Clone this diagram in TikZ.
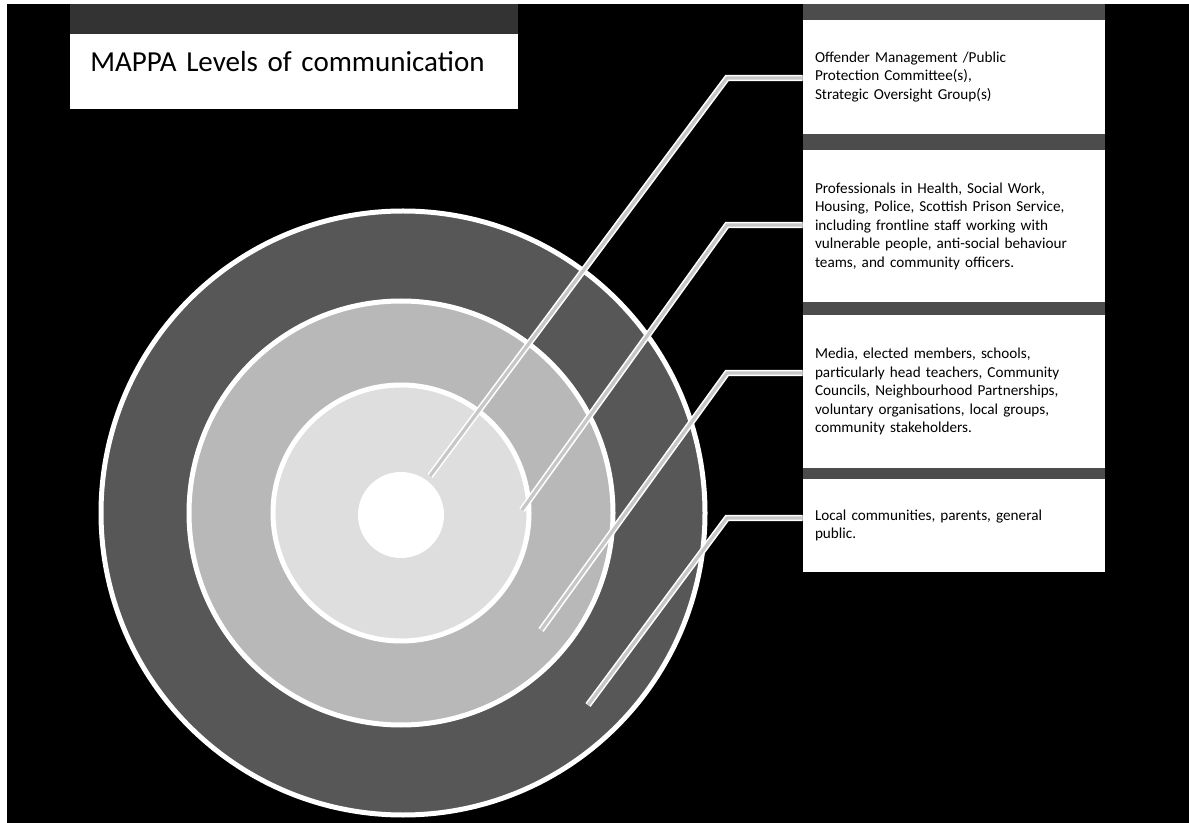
\documentclass[tikz,border=0pt]{standalone}
\usepackage{fontspec}
\setmainfont{Carlito}
\begin{document}
\hyphenpenalty=10000\relax
\exhyphenpenalty=10000\relax
\begin{tikzpicture}[x=0.5pt,y=-0.5pt,
  box/.style={fill=white, draw=none, inner xsep=6pt, inner ysep=0pt,
    text width=139pt, align=left, minimum width=151pt,
    font=\fontsize{7.6}{9.25}\selectfont},
  titlebox/.style={fill=white, draw=none, inner xsep=10pt, inner ysep=9pt,
    text width=204pt, align=left, text height=9.5pt, text depth=10pt,
    font=\fontsize{14.5}{17}\selectfont},
  leader/.style={draw=white, double=black!22, double distance=1.6pt, line width=0.8pt},
  ringline/.style={draw=white, line width=2.5pt},
  strip/.style={fill=black!70},
  topstrip/.style={fill=black!80}]
\useasboundingbox (0,0) rectangle (1189,823);
\fill[white] (0,0) rectangle (1189,823);
\fill[black] (7,4) rectangle (1189,823);
% grey strips
\fill[topstrip] (70,4) rectangle (518,34);
\fill[strip] (803,4) rectangle (1105,20);
\fill[strip] (803,134) rectangle (1105,150);
\fill[strip] (803,302) rectangle (1105,315);
\fill[strip] (803,468) rectangle (1105,479);
% circles
\fill[black!66, ringline] (403,513) circle [radius=302];
\fill[black!28, ringline] (401,513) circle [radius=212];
\fill[black!13, ringline] (401,513) circle [radius=128];
\fill[white] (401,515) circle [radius=43];
% title
\node[titlebox, anchor=north west] (title) at (70,34) {MAPPA Levels of communication};
% boxes
\node[box, minimum height=57pt] (b1) at (954,77)
  {Offender Management /Public\\Protection Committee(s),\\Strategic Oversight Group(s)};
\node[box, minimum height=76pt] (b2) at (954,226)
  {Professionals in Health, Social Work,\\Housing, Police, Scottish Prison Service,\\including frontline staff working with\\vulnerable people, anti-social behaviour\\teams, and community officers.};
\node[box, minimum height=76.5pt] (b3) at (954,391.5)
  {Media, elected members, schools,\\particularly head teachers, Community\\Councils, Neighbourhood Partnerships,\\voluntary organisations, local groups,\\community stakeholders.};
\node[box, minimum height=46.5pt] (b4) at (954,525.5)
  {Local communities, parents, general\\public.};
% leader lines
\coordinate (k1) at (727,78);  \coordinate (e1) at (430,476);
\coordinate (k2) at (727,225); \coordinate (e2) at (522,510);
\coordinate (k3) at (727,373); \coordinate (e3) at (541,630);
\coordinate (k4) at (727,518); \coordinate (e4) at (588,705);
\draw[leader] (b1.west |- k1) -- (k1) -- (e1);
\draw[leader] (b2.west |- k2) -- (k2) -- (e2);
\draw[leader] (b3.west |- k3) -- (k3) -- (e3);
\draw[leader] (b4.west |- k4) -- (k4) -- (e4);
\end{tikzpicture}
\end{document}
